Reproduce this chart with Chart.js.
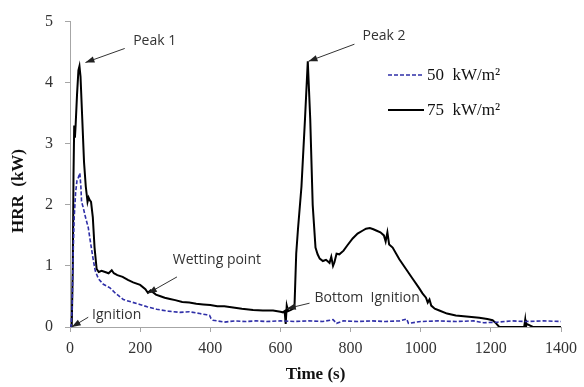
<!DOCTYPE html>
<html>
<head>
<meta charset="utf-8">
<script src="https://cdn.jsdelivr.net/npm/chart.js@4/dist/chart.umd.min.js"></script>
<style>
  html, body { margin: 0; padding: 0; background: #fff; }
  #wrap { width: 584px; height: 387px; }
</style>
</head>
<body>
<div id="wrap"><canvas id="c" width="584" height="387"></canvas></div>
<script>
// ---- data ----
const seriesNames = ['50  kW/m²', '75  kW/m²'];

const time50 = [0, 3, 6, 9, 12, 16, 20, 24, 28, 31, 33, 38, 44, 52, 58, 66, 72, 81, 95, 114, 130, 152, 175, 199, 220, 247, 280, 313, 340, 370, 390, 398, 402, 408, 420, 440, 470, 500, 530, 560, 600, 640, 680, 720, 750, 760, 780, 820, 860, 900, 940, 960, 965, 1000, 1050, 1100, 1150, 1180, 1220, 1260, 1300, 1350, 1400];
const hrr50 = [0, 0, 0.3, 1.2, 1.8, 2.2, 2.4, 2.45, 2.52, 2.3, 2.05, 1.95, 1.8, 1.63, 1.4, 1.11, 0.92, 0.79, 0.7, 0.64, 0.55, 0.45, 0.41, 0.37, 0.33, 0.29, 0.26, 0.24, 0.25, 0.22, 0.2, 0.19, 0.14, 0.11, 0.1, 0.08, 0.1, 0.09, 0.1, 0.09, 0.1, 0.09, 0.1, 0.09, 0.12, 0.06, 0.1, 0.09, 0.1, 0.09, 0.1, 0.13, 0.06, 0.09, 0.1, 0.09, 0.1, 0.07, 0.08, 0.1, 0.09, 0.1, 0.09];

const time75 = [0, 5, 8, 10, 12, 14, 16, 20, 24, 27, 30, 35, 40, 45, 50, 53, 56, 60, 65, 70, 76, 82, 90, 100, 110, 119, 125, 135, 150, 165, 180, 200, 215, 222, 230, 245, 260, 270, 285, 300, 320, 340, 360, 380, 400, 420, 440, 465, 490, 522, 550, 579, 600, 607, 612, 615, 618, 622, 630, 636, 640, 645, 650, 660, 670, 678, 685, 692, 700, 706, 712, 721, 730, 740, 745, 750, 754, 760, 768, 780, 790, 806, 820, 835, 844, 855, 865, 873, 885, 895, 900, 905, 910, 920, 939, 958, 977, 995, 1005, 1015, 1020, 1025, 1030, 1040, 1053, 1075, 1100, 1130, 1167, 1190, 1205, 1215, 1224, 1240, 1280, 1295, 1298, 1300, 1302, 1320, 1360, 1400];
const hrr75 = [0, 0.02, 1.0, 2.5, 3.3, 3.1, 3.3, 3.8, 4.2, 4.27, 4.1, 3.4, 2.7, 2.3, 2.05, 2.12, 2.08, 2.05, 1.8, 1.3, 0.95, 0.9, 0.92, 0.9, 0.88, 0.93, 0.88, 0.85, 0.82, 0.77, 0.73, 0.69, 0.62, 0.56, 0.6, 0.53, 0.5, 0.48, 0.46, 0.44, 0.41, 0.4, 0.38, 0.37, 0.36, 0.34, 0.34, 0.32, 0.3, 0.28, 0.27, 0.27, 0.25, 0.24, 0.26, 0.05, 0.35, 0.26, 0.28, 0.3, 0.32, 1.2, 1.6, 2.3, 3.4, 4.35, 3.4, 2.0, 1.3, 1.19, 1.12, 1.08, 1.1, 1.05, 1.15, 1.0, 1.06, 1.2, 1.19, 1.25, 1.33, 1.45, 1.53, 1.58, 1.61, 1.62, 1.6, 1.58, 1.55, 1.5, 1.4, 1.55, 1.35, 1.3, 1.11, 0.95, 0.79, 0.64, 0.55, 0.48, 0.4, 0.45, 0.35, 0.3, 0.27, 0.22, 0.19, 0.17, 0.15, 0.13, 0.11, 0.06, 0, 0, 0, 0, 0.12, 0, 0.05, 0, 0, 0];

const xTitle = 'Time (s)';
const yTitle = 'HRR  (kW)';

// annotations: label, text anchor (data coords), arrow start, arrow tip
const notes = [
  { text: 'Peak 1', tx: 180, ty: 4.68, ax: 156, ay: 4.56, bx: 44, by: 4.33 },
  { text: 'Peak 2', tx: 834, ty: 4.76, ax: 811, ay: 4.63, bx: 680, by: 4.35 },
  { text: 'Wetting point', tx: 293, ty: 1.1, ax: 305, ay: 0.82, bx: 222, by: 0.55 },
  { text: 'Ignition', tx: 63, ty: 0.2, ax: 52, ay: 0.16, bx: 5, by: 0.0 },
  { text: 'Bottom  Ignition', tx: 697, ty: 0.47, ax: 683, ay: 0.39, bx: 618, by: 0.3 }
];

function pts(xs, ys) { return xs.map((x, i) => ({ x: x, y: ys[i] })); }

const BLUE = '#2f2fa8';
const AXIS = '#a6a6a6';

function arrow(ctx, x1, y1, x2, y2) {
  ctx.beginPath();
  ctx.moveTo(x1, y1);
  ctx.lineTo(x2, y2);
  ctx.stroke();
  const ang = Math.atan2(y2 - y1, x2 - x1);
  const L = 9, W = 3.2;
  ctx.beginPath();
  ctx.moveTo(x2, y2);
  ctx.lineTo(x2 - L * Math.cos(ang) + W * Math.sin(ang), y2 - L * Math.sin(ang) - W * Math.cos(ang));
  ctx.lineTo(x2 - L * Math.cos(ang) - W * Math.sin(ang), y2 - L * Math.sin(ang) + W * Math.cos(ang));
  ctx.closePath();
  ctx.fill();
}

const decor = {
  id: 'decor',
  afterDatasetsDraw(chart) {
    const ctx = chart.ctx;
    const xs = chart.scales.x, ys = chart.scales.y;
    ctx.save();
    ctx.strokeStyle = '#333';
    ctx.fillStyle = '#222';
    ctx.lineWidth = 1;
    notes.forEach(n => {
      arrow(ctx, xs.getPixelForValue(n.ax), ys.getPixelForValue(n.ay),
                 xs.getPixelForValue(n.bx), ys.getPixelForValue(n.by));
    });
    ctx.fillStyle = '#333';
    ctx.font = '14px "Open Sans"';
    ctx.textAlign = 'left';
    ctx.textBaseline = 'middle';
    notes.forEach(n => {
      ctx.fillText(n.text, xs.getPixelForValue(n.tx), ys.getPixelForValue(n.ty));
    });

    // legend
    const lx = 388, lw = 36;
    const rows = [{ y: 75, ds: chart.data.datasets[0] }, { y: 110, ds: chart.data.datasets[1] }];
    rows.forEach(r => {
      ctx.beginPath();
      ctx.strokeStyle = r.ds.borderColor;
      ctx.lineWidth = r.ds.borderWidth;
      ctx.setLineDash(r.ds.borderDash || []);
      ctx.moveTo(lx, r.y);
      ctx.lineTo(lx + lw, r.y);
      ctx.stroke();
      ctx.setLineDash([]);
      ctx.fillStyle = '#111';
      ctx.font = '17px "Liberation Serif"';
      ctx.textBaseline = 'middle';
      ctx.fillText(r.ds.label, lx + lw + 3, r.y + 1);
    });

    // y axis title
    ctx.save();
    ctx.translate(19, 191);
    ctx.rotate(-Math.PI / 2);
    ctx.font = 'bold 17px "Liberation Serif"';
    ctx.fillStyle = '#111';
    ctx.textAlign = 'center';
    ctx.textBaseline = 'middle';
    ctx.fillText(yTitle, 0, 0);
    ctx.restore();
    ctx.restore();
  }
};

new Chart(document.getElementById('c'), {
  type: 'scatter',
  data: {
    datasets: [
      { label: seriesNames[0], data: pts(time50, hrr50), showLine: true, borderColor: BLUE, borderWidth: 1.6, borderDash: [4, 2], pointRadius: 0, fill: false, tension: 0 },
      { label: seriesNames[1], data: pts(time75, hrr75), showLine: true, borderColor: '#000', borderWidth: 2, pointRadius: 0, fill: false, tension: 0 }
    ]
  },
  options: {
    responsive: false,
    animation: false,
    devicePixelRatio: 1,
    layout: { padding: { top: 10, right: 22, left: 0, bottom: 0 } },
    plugins: { legend: { display: false }, tooltip: { enabled: false } },
    scales: {
      x: {
        type: 'linear', min: 0, max: 1400,
        afterFit(s) { s.height = 60; },
        border: { display: true, color: AXIS, width: 1 },
        grid: { drawOnChartArea: false, drawTicks: true, tickLength: 5, color: AXIS },
        ticks: { stepSize: 200, padding: 7, color: '#333', font: { family: '"Liberation Serif"', size: 16 }, maxRotation: 0, callback: v => String(v) },
        title: { display: true, text: xTitle, color: '#111', font: { family: '"Liberation Serif"', size: 17, weight: 'bold' }, padding: { top: 0, bottom: 2 } }
      },
      y: {
        type: 'linear', min: 0, max: 5,
        afterFit(s) { s.width = 70; },
        border: { display: true, color: AXIS, width: 1 },
        grid: { drawOnChartArea: false, drawTicks: true, tickLength: 5, color: AXIS },
        ticks: { stepSize: 1, padding: 12, color: '#333', font: { family: '"Liberation Serif"', size: 16 }, callback: v => String(v) }
      }
    }
  },
  plugins: [decor]
});
</script>
</body>
</html>
